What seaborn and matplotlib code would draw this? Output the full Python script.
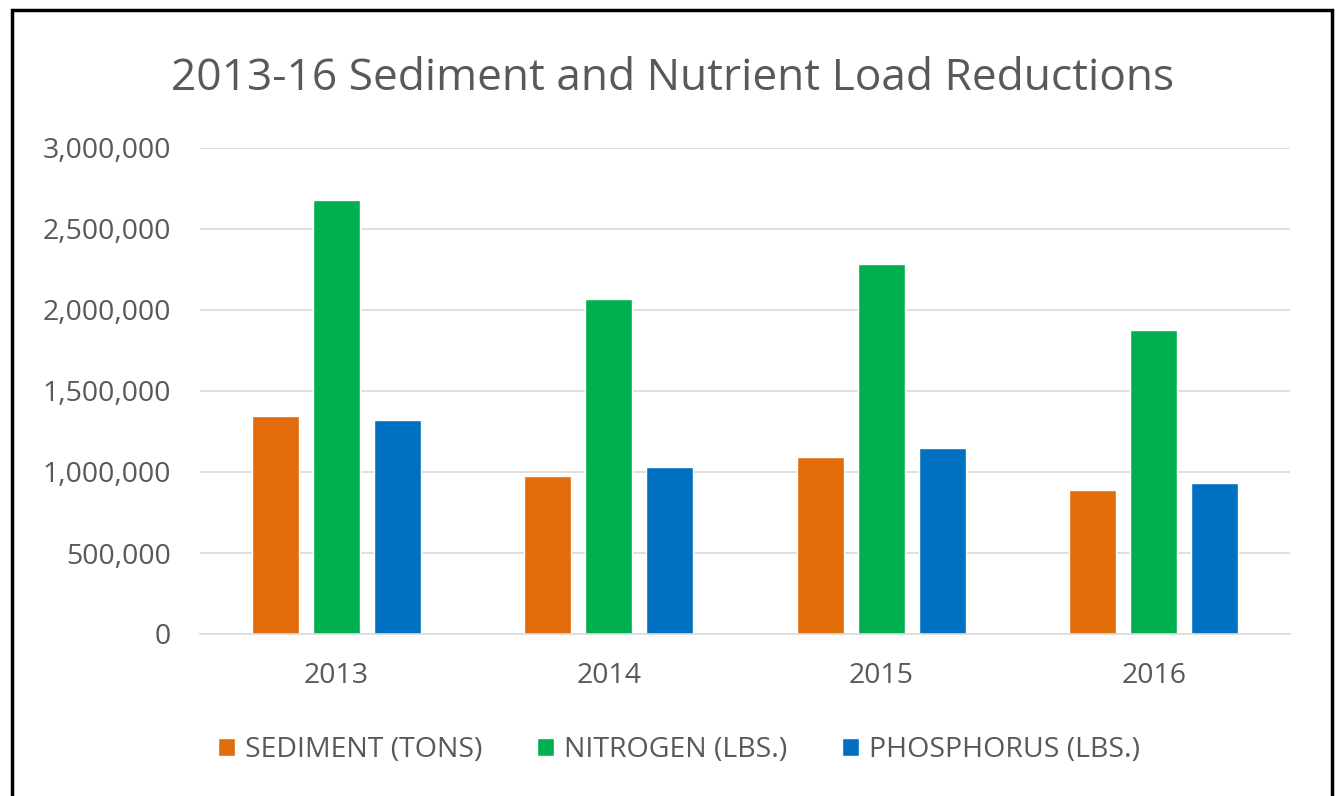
import matplotlib
matplotlib.use('Agg')
import pandas as pd
import seaborn as sns
from matplotlib import pyplot as plt
from matplotlib import ticker
from matplotlib.patches import Rectangle

years = ['2013', '2014', '2015', '2016']
sediment = [1345000, 975000, 1093000, 889000]
nitrogen = [2676000, 2068000, 2284000, 1877000]
phosphorus = [1321000, 1031000, 1148000, 932000]
series = ['SEDIMENT (TONS)', 'NITROGEN (LBS.)', 'PHOSPHORUS (LBS.)']
colors = ['#E36C0A', '#00B050', '#0070C0']

df = pd.DataFrame({
    'year': years * 3,
    'value': sediment + nitrogen + phosphorus,
    'series': [s for s in series for _ in years],
})

sns.set_style('white')
plt.rcParams['font.family'] = ['Open Sans', 'DejaVu Sans']
gray = '#595959'

fig = plt.figure(figsize=(13.41, 7.96), dpi=100)
ax = fig.add_axes([200 / 1341, 1 - 634 / 796, 1090 / 1341, 486 / 796])

sns.barplot(df, x='year', y='value', hue='series', palette=colors,
            width=0.67, gap=0.23, saturation=1, ax=ax, legend=True)

ax.set_ylim(0, 3000000)
ax.yaxis.set_major_locator(ticker.MultipleLocator(500000))
ax.yaxis.set_major_formatter(ticker.FuncFormatter(lambda v, p: f'{int(v):,}'))
ax.grid(axis='y', color='#D9D9D9', linewidth=1.2)
ax.set_axisbelow(True)
for side in ['left', 'right', 'top']:
    ax.spines[side].set_visible(False)
ax.spines['bottom'].set_color('#D9D9D9')
ax.spines['bottom'].set_linewidth(1.2)
ax.tick_params(axis='y', length=0, pad=21, labelsize=20.5, labelcolor=gray)
ax.tick_params(axis='x', length=0, pad=20, labelsize=20.5, labelcolor=gray)
ax.set_xlabel('')
ax.set_ylabel('')

handles, labels = ax.get_legend_handles_labels()
ax.legend_.remove()
fig.legend(handles, labels, loc='center', bbox_to_anchor=(679 / 1341, 1 - 750 / 796),
           ncol=3, frameon=False, fontsize=20.5, labelcolor=gray,
           handlelength=0.62, handleheight=0.62, handletextpad=0.35, columnspacing=1.9)

fig.text(673 / 1341, 1 - 90 / 796, '2013-16 Sediment and Nutrient Load Reductions',
         ha='center', va='baseline', fontsize=31.9, color=gray)

fig.patches.append(Rectangle((12 / 1341, -0.05), 1320 / 1341, 1.05 - 10 / 796,
                             transform=fig.transFigure, fill=False,
                             edgecolor='black', linewidth=2.5))

fig.savefig('out.png', dpi=100)
